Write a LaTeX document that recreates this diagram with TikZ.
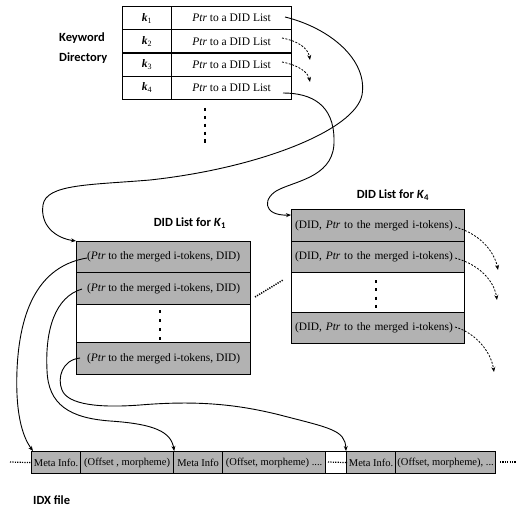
\documentclass[tikz,border=0pt]{standalone}
\usepackage{fontspec}
\setmainfont{Liberation Serif}
\newfontfamily\calib{Carlito}
\usetikzlibrary{arrows.meta}
\begin{document}
\begin{tikzpicture}[x=1pt,y=-1pt,
  cell/.style={draw, line width=1.2pt, inner sep=0pt, anchor=north west},
  graycell/.style={cell, fill=black!30},
  dirtxt/.style={font=\fontsize{11.5}{13}\selectfont},
  rowtxt/.style={font=\fontsize{11.4}{13}\selectfont},
  idxtxt/.style={font=\fontsize{10.5}{12}\selectfont},
  wk/.style={minimum width=49pt, minimum height=23.2pt},
  wp/.style={minimum width=120pt, minimum height=23.2pt},
  title/.style={font=\calib\bfseries\fontsize{12.5}{14}\selectfont, inner sep=0pt},
  conn/.style={line width=0.9pt, -{Stealth[length=5pt,width=4pt]}},
  dconn/.style={line width=0.8pt, dash pattern=on 2pt off 1.5pt, -{Stealth[length=5pt,width=4pt]}},
  vdots/.style={line width=2.2pt, line cap=butt},
  tdots/.style={line width=1.2pt, dash pattern=on 1.2pt off 1.2pt}
]
\useasboundingbox (0,0) rectangle (526,518);

% Keyword directory
\node[title, anchor=west] (kw) at (59,38) {Keyword};
\node[title, anchor=west] (kd) at (59,58) {Directory};
\node[cell, wk, dirtxt] (k1) at (122,6) {\textbf{\textit{k}}\textsubscript{1}};
\node[cell, wp, dirtxt] (p1) at (171,6) {\textit{Ptr} to a DID List};
\node[cell, wk, dirtxt] (k2) at (122,29.2) {\textbf{\textit{k}}\textsubscript{2}};
\node[cell, wp, dirtxt] (p2) at (171,29.2) {\textit{Ptr} to a DID List};
\node[cell, wk, dirtxt] (k3) at (122,52.4) {\textbf{\textit{k}}\textsubscript{3}};
\node[cell, wp, dirtxt] (p3) at (171,52.4) {\textit{Ptr} to a DID List};
\node[cell, wk, dirtxt] (k4) at (122,75.6) {\textbf{\textit{k}}\textsubscript{4}};
\node[cell, wp, dirtxt] (p4) at (171,75.6) {\textit{Ptr} to a DID List};
\coordinate (dd1) at (205,108);
\coordinate (dd2) at (205,143);
\draw[vdots, dash pattern=on 3.5pt off 4.375pt] (dd1) -- (dd2);

% DID list for K1
\node[title] (t1) at (190,223) {DID List for \textit{K}\textsubscript{1}};
\node[graycell, minimum width=174pt, minimum height=31pt, rowtxt] (a1) at (76,241) {(\textit{Ptr} to the merged i-tokens, DID)};
\node[graycell, minimum width=174pt, minimum height=32pt, rowtxt] (a2) at (76,272) {(\textit{Ptr} to the merged i-tokens, DID)};
\node[cell, fill=white, minimum width=174pt, minimum height=38pt] (a3) at (76,304) {};
\node[graycell, minimum width=174pt, minimum height=32pt, rowtxt] (a4) at (76,342) {(\textit{Ptr} to the merged i-tokens, DID)};
\coordinate (ad1) at (160,310);
\coordinate (ad2) at (160,340);
\draw[vdots, dash pattern=on 3pt off 6pt] (ad1) -- (ad2);

% DID list for K4
\node[title] (t4) at (393,195) {DID List for \textit{K}\textsubscript{4}};
\tikzset{krow/.style={graycell, minimum width=173pt, text width=166pt, align=left, inner xsep=3.5pt, rowtxt}}
\node[krow, minimum height=32pt] (b1) at (291,209) {(DID, \textit{Ptr} to the merged i-tokens)};
\node[krow, minimum height=31pt] (b2) at (291,241) {(DID, \textit{Ptr} to the merged i-tokens)};
\node[cell, fill=white, minimum width=173pt, minimum height=40pt] (b3) at (291,272) {};
\node[krow, minimum height=31pt] (b4) at (291,312) {(DID, \textit{Ptr} to the merged i-tokens)};
\coordinate (bd1) at (376,280);
\coordinate (bd2) at (376,308);
\draw[vdots, dash pattern=on 3pt off 5.33pt] (bd1) -- (bd2);

% IDX file
\node[graycell, minimum width=49pt, minimum height=22pt, idxtxt] (i1) at (31,451) {Meta Info.};
\node[graycell, minimum width=93pt, minimum height=22pt, idxtxt] (i2) at (80,451) {(Offset , morpheme)};
\node[graycell, minimum width=49pt, minimum height=22pt, idxtxt] (i3) at (173,451) {Meta Info};
\node[graycell, minimum width=103pt, minimum height=22pt, idxtxt] (i4) at (222,451) {(Offset, morpheme) ....};
\node[cell, fill=white, minimum width=21pt, minimum height=22pt] (i5) at (325,451) {};
\node[graycell, minimum width=49pt, minimum height=22pt, idxtxt] (i6) at (346,451) {Meta Info.};
\node[graycell, minimum width=100pt, minimum height=22pt, idxtxt] (i7) at (395,451) {(Offset, morpheme), ...};
\node[title, anchor=west] (idx) at (33,500) {IDX file};
\coordinate (l1) at (10,462);
\coordinate (r1) at (500,462);
\coordinate (r2) at (516,462);
\coordinate (w1) at (328,462);
\draw[tdots] (l1) -- (i1.west);
\draw[tdots] (r1) -- (r2);
\draw[tdots] (w1) -- (i5.east);

% connectors from the directory
\coordinate (s1) at (285,17);
\draw[conn] (s1) .. controls (330,28) and (368,60) .. (362,95)
  .. controls (355,130) and (260,168) .. (150,180)
  .. controls (90,185) and (46,184) .. (43,205)
  .. controls (40,225) and (55,238) .. (a1.north west);
\coordinate (s4) at (283,93);
\draw[conn] (s4) .. controls (312,93) and (334,105) .. (334,140)
  .. controls (335,175) and (300,180) .. (280,189)
  .. controls (262,197) and (262,216) .. ([yshift=-6pt]b1.north west);
\coordinate (s2) at (282,38);
\coordinate (e2) at (310,60);
\coordinate (s3) at (282,62);
\coordinate (e3) at (310,82);
\draw[dconn] (s2) .. controls (298,41) and (308,48) .. (e2);
\draw[dconn] (s3) .. controls (298,65) and (308,72) .. (e3);

% connectors from DID list K4
\coordinate (f1) at (455,227);
\coordinate (g1) at (498,270);
\coordinate (f2) at (455,258);
\coordinate (g2) at (497,300);
\coordinate (f3) at (455,327);
\coordinate (g3) at (494,372);
\draw[dconn] (f1) .. controls (478,233) and (494,250) .. (g1);
\draw[dconn] (f2) .. controls (478,264) and (494,280) .. (g2);
\draw[dconn] (f3) .. controls (476,333) and (491,352) .. (g3);
\coordinate (m1) at (255,297);
\coordinate (m2) at (283,280);
\draw[tdots, line width=1.5pt] (m1) -- (m2);

% connectors from DID list K1 into the IDX file
\coordinate (u1) at (87,258);
\draw[conn] (u1) .. controls (45,265) and (20,300) .. (17,370)
  .. controls (15,420) and (25,440) .. ([xshift=2pt]i1.north west);
\coordinate (u2) at (82,289);
\draw[conn] (u2) .. controls (55,297) and (45,330) .. (47,370)
  .. controls (48,405) and (70,418) .. (110,421)
  .. controls (155,424) and (171,432) .. (i2.north east);
\coordinate (u3) at (80,358);
\draw[conn] (u3) .. controls (62,360) and (57,378) .. (62,390)
  .. controls (68,405) and (100,408) .. (140,405)
  .. controls (200,400) and (240,405) .. (280,415)
  .. controls (330,428) and (345,430) .. (i6.north west);
\end{tikzpicture}
\end{document}
